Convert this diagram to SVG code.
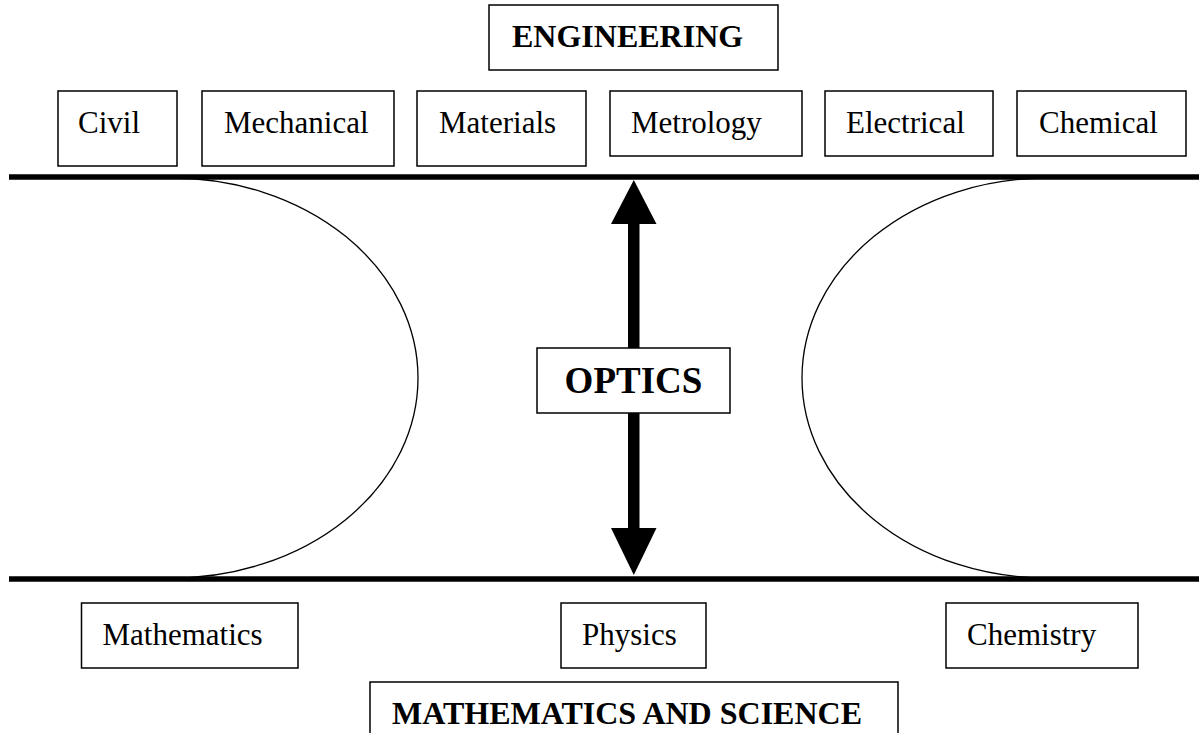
<svg xmlns="http://www.w3.org/2000/svg" width="1199" height="733" viewBox="0 0 1199 733">
<style>
.box{fill:#fff;stroke:#000;stroke-width:1.5}
.t{font-family:"Liberation Serif","Times New Roman",serif;font-size:31px;fill:#000}
.b{font-weight:bold;font-size:32px}
.rail{stroke:#000;stroke-width:5.5;fill:none}
.curve{stroke:#000;stroke-width:1.3;fill:none}
</style>
<rect width="1199" height="733" fill="#fff"/>
<g id="band">
<line class="rail" x1="9" y1="177" x2="1199" y2="177"/>
<line class="rail" x1="9" y1="579" x2="1199" y2="579"/>
<path class="curve" d="M172,178 A246,200 0 0 1 418,378 A246,200 0 0 1 172,578"/>
<path class="curve" d="M1047,178 A245,200 0 0 0 802,378 A245,200 0 0 0 1047,578"/>
</g>
<g id="connectors">
<rect x="628" y="220" width="11.5" height="312" fill="#000"/>
<polygon points="633.8,180 611,224 656.5,224" fill="#000"/>
<polygon points="633.8,575 611,528 656.5,528" fill="#000"/>
</g>
<g id="engineering"><rect class="box" x="489" y="5" width="289" height="65"/><text class="t b" x="512" y="47">ENGINEERING</text></g>
<g id="civil"><rect class="box" x="58" y="91" width="119" height="75"/><text class="t" x="78" y="133">Civil</text></g>
<g id="mechanical"><rect class="box" x="202" y="91" width="192" height="75"/><text class="t" x="224" y="133">Mechanical</text></g>
<g id="materials"><rect class="box" x="417" y="91" width="169" height="75"/><text class="t" x="439" y="133">Materials</text></g>
<g id="metrology"><rect class="box" x="610" y="91" width="192" height="65"/><text class="t" x="631" y="133">Metrology</text></g>
<g id="electrical"><rect class="box" x="825" y="91" width="168" height="65"/><text class="t" x="846" y="133">Electrical</text></g>
<g id="chemical"><rect class="box" x="1017" y="91" width="169" height="65"/><text class="t" x="1039" y="133">Chemical</text></g>
<g id="optics"><rect class="box" x="537" y="348" width="193" height="65"/><text class="t b" x="633.5" y="393" text-anchor="middle" style="font-size:37px">OPTICS</text></g>
<g id="mathematics"><rect class="box" x="81.5" y="603" width="216.5" height="65"/><text class="t" x="102.5" y="645">Mathematics</text></g>
<g id="physics"><rect class="box" x="561" y="603" width="145" height="65"/><text class="t" x="582" y="645">Physics</text></g>
<g id="chemistry"><rect class="box" x="946" y="603" width="192" height="65"/><text class="t" x="967" y="645">Chemistry</text></g>
<g id="math-science"><rect class="box" x="370" y="682" width="528" height="60"/><text class="t b" x="392" y="724">MATHEMATICS AND SCIENCE</text></g>
</svg>
